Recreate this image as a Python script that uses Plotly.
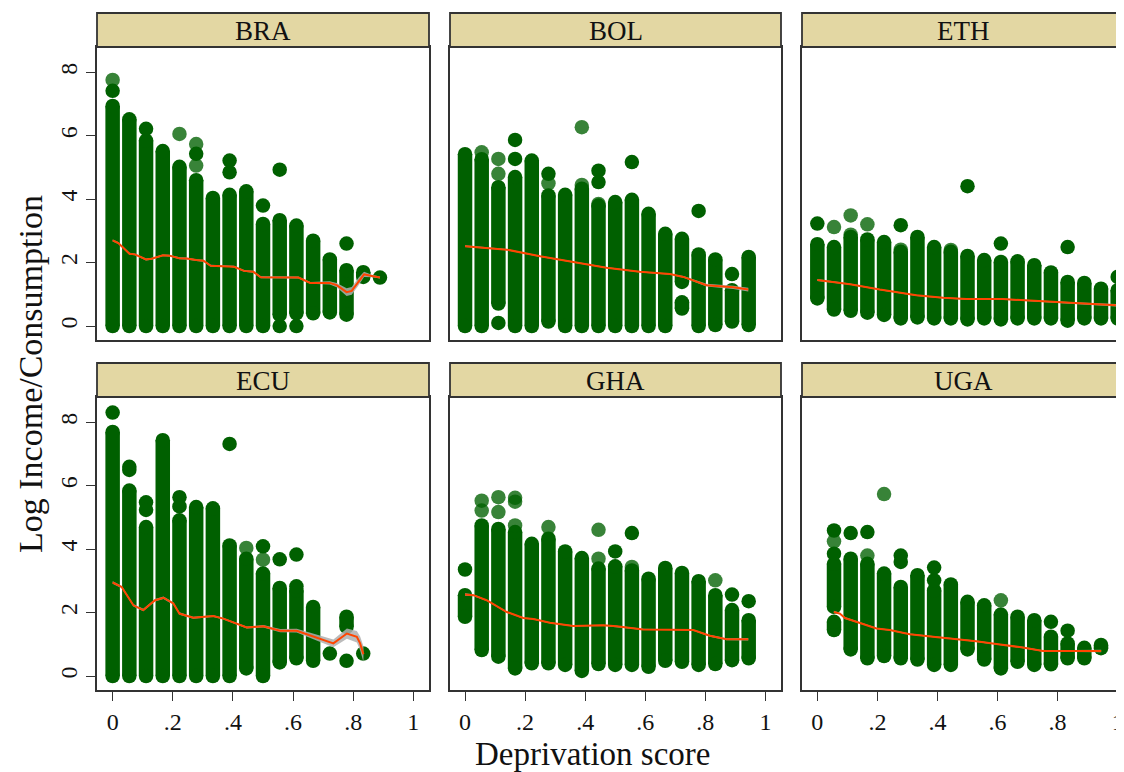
import plotly.graph_objects as go

# ---------------- data ----------------
countries = ["BRA", "BOL", "ETH", "ECU", "GHA", "UGA"]
N_DEPRIV = 18  # deprivation score = k / 18

# Column ranges of observed log income (one entry per contiguous run of points)
BRA_seg_k  = [0, 1, 2, 3, 4, 5, 6, 7, 8, 9, 10, 11, 12, 13, 14, 15]
BRA_seg_lo = [0, 0, 0, 0, 0, 0, 0, 0, 0, 0, 0.35, 0.40, 0.40, 0.43, 0.36, 1.55]
BRA_seg_hi = [6.94, 6.52, 5.85, 5.52, 5.02, 4.60, 4.04, 4.14, 4.25, 3.22, 3.34, 3.17, 2.69, 2.10, 1.76, 1.70]
BRA_out_k  = [0, 2, 5, 7, 7, 9, 10, 10, 11, 14, 16]
BRA_out_y  = [7.42, 6.22, 5.43, 5.22, 4.85, 3.80, 4.93, 0.0, 0.0, 2.60, 1.53]
BRA_lgt_k  = [0, 4, 5, 5]
BRA_lgt_y  = [7.76, 6.06, 5.74, 5.06]
BRA_fit_x  = [0, 0.019, 0.056, 0.074, 0.111, 0.13, 0.167, 0.189, 0.222, 0.246, 0.278, 0.302, 0.326,
              0.389, 0.404, 0.437, 0.468, 0.4925, 0.556, 0.618, 0.657, 0.722, 0.745, 0.778, 0.795,
              0.8175, 0.836, 0.862, 0.889]
BRA_fit_y  = [2.70, 2.62, 2.28, 2.26, 2.10, 2.12, 2.23, 2.22, 2.14, 2.13, 2.08, 2.06, 1.90,
              1.89, 1.87, 1.74, 1.71, 1.54, 1.53, 1.53, 1.36, 1.36, 1.29, 1.07, 1.11,
              1.40, 1.63, 1.58, 1.53]
BRA_fit_se = [0.03] * 21 + [0.05, 0.07, 0.12, 0.12, 0.12, 0.08, 0.04, 0.03]

BOL_seg_k  = [0, 1, 2, 3, 4, 5, 6, 7, 8, 9, 10, 11, 12, 13, 13, 14, 15, 16, 17]
BOL_seg_lo = [0, 0, 0.71, 0, 0, 0.14, 0, 0, 0, 0, 0, 0, 0, 1.39, 0.55, 0, 0.03, 0.14, 0.03]
BOL_seg_hi = [5.42, 5.26, 4.38, 4.70, 5.22, 4.12, 4.14, 4.33, 3.80, 3.91, 3.98, 3.54, 2.91, 2.75, 0.75,
              2.26, 2.10, 1.13, 2.18]
BOL_out_k  = [2, 3, 3, 5, 8, 8, 10, 14, 16]
BOL_out_y  = [0.10, 5.87, 5.27, 4.80, 4.90, 4.54, 5.17, 3.63, 1.64]
BOL_lgt_k  = [1, 2, 2, 5, 7, 7, 8]
BOL_lgt_y  = [5.48, 5.27, 4.80, 4.50, 6.27, 4.45, 3.85]
BOL_fit_x  = [0, 0.139, 0.25, 0.36, 0.471, 0.582, 0.682, 0.727, 0.804, 0.893, 0.943]
BOL_fit_y  = [2.52, 2.41, 2.20, 2.02, 1.84, 1.71, 1.64, 1.55, 1.29, 1.22, 1.15]
BOL_fit_se = [0.03, 0.02, 0.02, 0.02, 0.02, 0.02, 0.02, 0.03, 0.04, 0.05, 0.06]

ETH_seg_k  = [0, 1, 2, 3, 4, 5, 6, 7, 8, 9, 10, 11, 12, 13, 14, 15, 16, 17, 18]
ETH_seg_lo = [0.87, 0.52, 0.48, 0.42, 0.35, 0.24, 0.27, 0.24, 0.24, 0.21, 0.24, 0.21, 0.24, 0.24, 0.24,
              0.17, 0.24, 0.24, 0.24]
ETH_seg_hi = [2.58, 2.49, 2.81, 2.73, 2.65, 2.34, 2.81, 2.49, 2.34, 2.21, 2.08, 2.02, 2.04, 1.92, 1.69,
              1.39, 1.36, 1.18, 1.13]
ETH_out_k  = [0, 5, 9, 11, 15, 18]
ETH_out_y  = [3.23, 3.18, 4.41, 2.60, 2.49, 1.55]
ETH_lgt_k  = [1, 2, 2, 3, 5, 8]
ETH_lgt_y  = [3.12, 3.49, 2.88, 3.21, 2.41, 2.40]
ETH_fit_x  = [0, 0.109, 0.208, 0.33, 0.419, 0.496, 0.618, 0.707, 0.839, 1.0]
ETH_fit_y  = [1.45, 1.32, 1.15, 0.97, 0.89, 0.85, 0.85, 0.80, 0.73, 0.65]
ETH_fit_se = [0.03, 0.02, 0.02, 0.02, 0.02, 0.02, 0.02, 0.02, 0.03, 0.04]

ECU_seg_k  = [0, 1, 2, 3, 4, 5, 6, 7, 8, 9, 10, 11, 12, 14]
ECU_seg_lo = [0, 0, 0, 0, 0, 0, 0, 0, 0.24, 0, 0.43, 0.56, 0.48, 1.55]
ECU_seg_hi = [7.70, 5.85, 4.70, 7.44, 4.91, 5.33, 5.29, 4.12, 3.70, 3.23, 2.78, 2.70, 2.18, 1.87]
ECU_out_k  = [0, 1, 1, 2, 2, 4, 4, 7, 9, 10, 11, 11, 13, 14, 15]
ECU_out_y  = [8.31, 6.60, 6.50, 5.48, 5.24, 5.64, 5.35, 7.32, 4.09, 3.68, 3.83, 2.83, 0.71, 0.48, 0.71]
ECU_lgt_k  = [8, 9]
ECU_lgt_y  = [4.04, 3.67]
ECU_fit_x  = [0, 0.03, 0.069, 0.102, 0.141, 0.169, 0.202, 0.222, 0.268, 0.335, 0.368, 0.402, 0.446,
              0.501, 0.557, 0.612, 0.657, 0.701, 0.734, 0.779, 0.812, 0.823, 0.834]
ECU_fit_y  = [2.95, 2.81, 2.23, 2.08, 2.39, 2.47, 2.29, 1.97, 1.84, 1.89, 1.81, 1.68, 1.53,
              1.57, 1.43, 1.43, 1.29, 1.13, 1.03, 1.34, 1.24, 1.03, 0.69]
ECU_fit_se = [0.04, 0.04, 0.04, 0.04, 0.04, 0.04, 0.04, 0.04, 0.03, 0.03, 0.03, 0.03, 0.03,
              0.04, 0.05, 0.06, 0.08, 0.10, 0.12, 0.16, 0.18, 0.22, 0.25]

GHA_seg_k  = [0, 1, 2, 3, 4, 5, 6, 7, 8, 9, 10, 11, 12, 13, 14, 15, 16, 17]
GHA_seg_lo = [1.87, 0.82, 0.61, 0.24, 0.40, 0.40, 0.35, 0.16, 0.38, 0.35, 0.35, 0.29, 0.48, 0.45, 0.35,
              0.38, 0.50, 0.56]
GHA_seg_hi = [2.55, 4.75, 4.64, 4.54, 4.17, 4.33, 3.93, 3.72, 3.39, 3.46, 3.33, 3.07, 3.41, 3.25, 2.99,
              2.55, 2.08, 1.76]
GHA_out_k  = [0, 9, 10, 16, 17]
GHA_out_y  = [3.36, 3.93, 4.51, 2.57, 2.36]
GHA_lgt_k  = [1, 1, 2, 2, 3, 3, 3, 5, 8, 8, 10, 15]
GHA_lgt_y  = [5.53, 5.22, 5.64, 5.17, 5.62, 5.50, 4.75, 4.70, 4.61, 3.70, 3.44, 3.02]
GHA_fit_x  = [0, 0.028, 0.072, 0.105, 0.139, 0.194, 0.227, 0.283, 0.36, 0.46, 0.505, 0.593, 0.693,
              0.76, 0.815, 0.871, 0.943]
GHA_fit_y  = [2.57, 2.55, 2.39, 2.20, 2.02, 1.83, 1.80, 1.68, 1.58, 1.60, 1.57, 1.47, 1.47,
              1.45, 1.27, 1.16, 1.16]
GHA_fit_se = [0.04, 0.03, 0.02, 0.02, 0.02, 0.02, 0.02, 0.02, 0.02, 0.02, 0.02, 0.02, 0.02,
              0.02, 0.03, 0.03, 0.04]

UGA_seg_k  = [1, 1, 2, 3, 4, 5, 6, 7, 8, 9, 10, 11, 12, 13, 14, 15, 16, 17]
UGA_seg_lo = [2.18, 1.45, 0.84, 0.56, 0.63, 0.56, 0.52, 0.35, 0.35, 0.84, 0.52, 0.24, 0.45, 0.35, 0.37,
              0.56, 0.56, 0.88]
UGA_seg_hi = [3.54, 1.71, 3.70, 3.54, 3.23, 2.81, 3.18, 2.70, 2.89, 2.34, 2.23, 1.94, 1.87, 1.76, 1.24,
              1.03, 0.89, 0.98]
UGA_out_k  = [1, 1, 2, 3, 5, 5, 7, 7, 14, 15]
UGA_out_y  = [4.59, 3.86, 4.51, 4.54, 3.80, 3.60, 3.42, 3.02, 1.71, 1.43]
UGA_lgt_k  = [1, 3, 4, 11]
UGA_lgt_y  = [4.25, 3.80, 5.74, 2.39]
UGA_fit_x  = [0.055, 0.075, 0.092, 0.131, 0.197, 0.241, 0.308, 0.385, 0.463, 0.529, 0.596, 0.629,
              0.684, 0.751, 0.795, 0.945]
UGA_fit_y  = [2.02, 1.97, 1.83, 1.71, 1.50, 1.45, 1.32, 1.24, 1.17, 1.10, 1.01, 0.97,
              0.90, 0.79, 0.79, 0.79]
UGA_fit_se = [0.04, 0.03, 0.03, 0.02, 0.02, 0.02, 0.02, 0.02, 0.02, 0.02, 0.02, 0.02,
              0.02, 0.02, 0.03, 0.04]

x_tickvals = [0, 0.2, 0.4, 0.6, 0.8, 1]
x_ticktext = ["0", ".2", ".4", ".6", ".8", "1"]
y_tickvals = [0, 2, 4, 6, 8]
y_ticktext = ["0", "2", "4", "6", "8"]

DATA = {
    "BRA": (BRA_seg_k, BRA_seg_lo, BRA_seg_hi, BRA_out_k, BRA_out_y, BRA_lgt_k, BRA_lgt_y, BRA_fit_x, BRA_fit_y, BRA_fit_se),
    "BOL": (BOL_seg_k, BOL_seg_lo, BOL_seg_hi, BOL_out_k, BOL_out_y, BOL_lgt_k, BOL_lgt_y, BOL_fit_x, BOL_fit_y, BOL_fit_se),
    "ETH": (ETH_seg_k, ETH_seg_lo, ETH_seg_hi, ETH_out_k, ETH_out_y, ETH_lgt_k, ETH_lgt_y, ETH_fit_x, ETH_fit_y, ETH_fit_se),
    "ECU": (ECU_seg_k, ECU_seg_lo, ECU_seg_hi, ECU_out_k, ECU_out_y, ECU_lgt_k, ECU_lgt_y, ECU_fit_x, ECU_fit_y, ECU_fit_se),
    "GHA": (GHA_seg_k, GHA_seg_lo, GHA_seg_hi, GHA_out_k, GHA_out_y, GHA_lgt_k, GHA_lgt_y, GHA_fit_x, GHA_fit_y, GHA_fit_se),
    "UGA": (UGA_seg_k, UGA_seg_lo, UGA_seg_hi, UGA_out_k, UGA_out_y, UGA_lgt_k, UGA_lgt_y, UGA_fit_x, UGA_fit_y, UGA_fit_se),
}

# ---------------- styling / layout ----------------
OFF = 8                       # page body margin in the browser
W, H = 1124 - OFF, 772 - OFF  # figure size so that it fills the window
GREEN = "#006000"
GREEN_LIGHT = "rgba(0,96,0,0.78)"
FIT = "#FF4500"
BAND = "rgba(175,175,175,0.85)"
STRIP = "#E3D7A3"
FRAME = "#333333"
SERIF = "Liberation Serif, Times New Roman, serif"
MSIZE = 14.5

# window-pixel geometry of the reference
col_px = [(97, 429), (450, 781), (802, 1124)]
row_px = [(47, 340), (397, 690)]
strip_px = [(13, 47), (363, 397)]
x_ranges = [[-0.052, 1.052], [-0.05, 1.052], [-0.051, 1.021]]
y_range = [-0.44, 8.8]


def px(xw):
    return (xw - OFF) / W


def py(yw):
    return 1 - (yw - OFF) / H


fig = go.Figure()
layout = dict(
    width=W, height=H, margin=dict(l=0, r=0, t=0, b=0),
    paper_bgcolor="white", plot_bgcolor="white", showlegend=False,
    font=dict(family=SERIF, color="#111"),
)
shapes, annotations = [], []

for i, c in enumerate(countries):
    r, cc = divmod(i, 3)
    sfx = "" if i == 0 else str(i + 1)
    xa, ya = "x" + sfx, "y" + sfx
    seg_k, seg_lo, seg_hi, out_k, out_y, lgt_k, lgt_y, fx, fy, fse = DATA[c]

    # columns of points
    xs, ys = [], []
    for k, lo, hi in zip(seg_k, seg_lo, seg_hi):
        xs += [k / N_DEPRIV, k / N_DEPRIV, None]
        ys += [lo, hi, None]
    fig.add_trace(go.Scatter(x=xs, y=ys, mode="lines+markers", xaxis=xa, yaxis=ya,
                             line=dict(color=GREEN, width=MSIZE),
                             marker=dict(color=GREEN, size=MSIZE, line=dict(width=0)),
                             hoverinfo="skip"))
    fig.add_trace(go.Scatter(x=[k / N_DEPRIV for k in out_k], y=out_y, mode="markers",
                             xaxis=xa, yaxis=ya,
                             marker=dict(color=GREEN, size=MSIZE, line=dict(width=0))))
    fig.add_trace(go.Scatter(x=[k / N_DEPRIV for k in lgt_k], y=lgt_y, mode="markers",
                             xaxis=xa, yaxis=ya,
                             marker=dict(color=GREEN_LIGHT, size=MSIZE, line=dict(width=0))))
    # confidence band + fit
    up = [a + b for a, b in zip(fy, fse)]
    lo = [a - b for a, b in zip(fy, fse)]
    fig.add_trace(go.Scatter(x=list(fx) + list(fx)[::-1], y=up + lo[::-1], mode="lines",
                             fill="toself", fillcolor=BAND, line=dict(width=0),
                             xaxis=xa, yaxis=ya, hoverinfo="skip"))
    fig.add_trace(go.Scatter(x=fx, y=fy, mode="lines", line=dict(color=FIT, width=2),
                             xaxis=xa, yaxis=ya))

    x0p, x1p = col_px[cc]
    y0p, y1p = row_px[r]
    xdom = [px(x0p), min(1.0, px(x1p))]
    ydom = [py(y1p), py(y0p)]
    bottom = (r == 1)
    left = (cc == 0)
    layout["xaxis" + sfx] = dict(
        domain=xdom, anchor=ya, range=x_ranges[cc], showgrid=False, zeroline=False,
        showline=True, linecolor=FRAME, linewidth=1.8, mirror=True,
        tickvals=x_tickvals, ticktext=x_ticktext,
        ticks="outside" if bottom else "", ticklen=9, tickcolor=FRAME, tickwidth=1.3,
        showticklabels=bottom, tickfont=dict(family=SERIF, size=24, color="#111"),
    )
    layout["yaxis" + sfx] = dict(
        domain=ydom, anchor=xa, range=y_range, showgrid=False, zeroline=False,
        showline=True, linecolor=FRAME, linewidth=1.8, mirror=(cc != 2),
        tickvals=y_tickvals, ticktext=y_ticktext,
        ticks="outside" if left else "", ticklen=9, tickcolor=FRAME, tickwidth=1.3,
        showticklabels=left, tickangle=-90, tickfont=dict(family=SERIF, size=24, color="#111"),
    )
    # strip header
    sy0, sy1 = strip_px[r]
    shapes.append(dict(type="rect", xref="paper", yref="paper",
                       x0=px(x0p), x1=px(x1p + (12 if cc == 2 else 0)),
                       y0=py(sy1), y1=py(sy0),
                       fillcolor=STRIP, line=dict(color=FRAME, width=1.8)))
    annotations.append(dict(text=c, xref="paper", yref="paper",
                            x=px((x0p + x1p) / 2), y=py((sy0 + sy1) / 2 + 1),
                            showarrow=False, xanchor="center", yanchor="middle",
                            font=dict(family=SERIF, size=27, color="#111")))

annotations.append(dict(text="Log Income/Consumption", xref="paper", yref="paper",
                        x=px(30), y=py(374), textangle=-90, showarrow=False,
                        xanchor="center", yanchor="middle",
                        font=dict(family=SERIF, size=34, color="#111")))
annotations.append(dict(text="Deprivation score", xref="paper", yref="paper",
                        x=px(593), y=py(754), showarrow=False,
                        xanchor="center", yanchor="middle",
                        font=dict(family=SERIF, size=33, color="#111")))

layout["shapes"] = shapes
layout["annotations"] = annotations
fig.update_layout(**layout)
fig.write_html("out.html")
